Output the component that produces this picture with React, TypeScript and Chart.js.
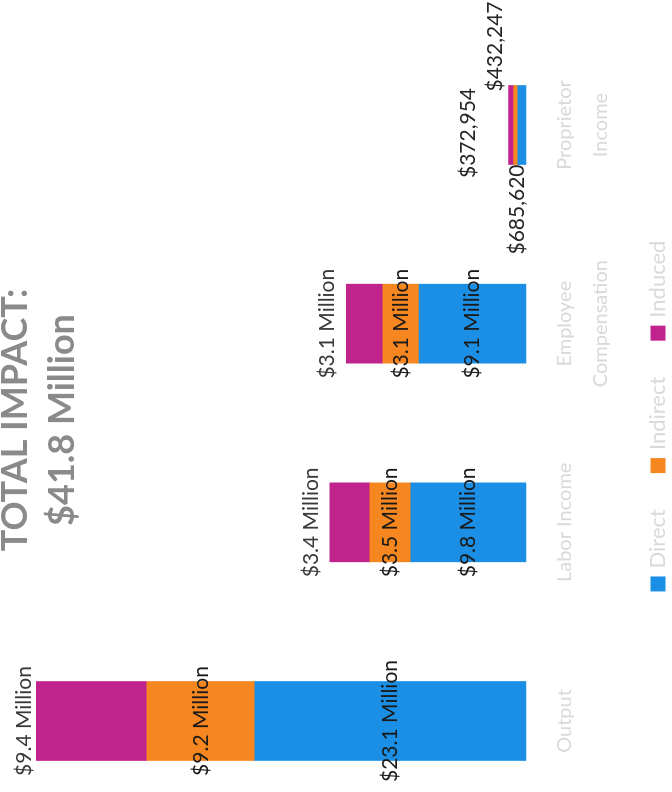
import React, { useEffect, useRef } from "react";
import { Chart, registerables } from "chart.js";

Chart.register(...registerables);

// ---- data ----
const categories: string[][] = [["Output"], ["Labor Income"], ["Employee", "Compensation"], ["Proprietor", "Income"]];
const seriesNames = ["Direct", "Indirect", "Induced"];
const directValues = [23.1, 9.8, 9.1, 0.68562];
const indirectValues = [9.2, 3.5, 3.1, 0.372954];
const inducedValues = [9.4, 3.4, 3.1, 0.432247];
const seriesColors = ["#1b8fe5", "#f6861f", "#c1238d"];
const titleLines = ["TOTAL IMPACT:", "$41.8 Million"];

const W = 792;
const H = 672;

function fmt(v: number): string {
  if (v >= 1) return `$${v.toFixed(1)} Million`;
  return `$${Math.round(v * 1e6).toLocaleString("en-US")}`;
}

const stackLabels = {
  id: "stackLabels",
  afterDatasetsDraw(chart: any) {
    const ctx = chart.ctx;
    ctx.save();
    ctx.font = "21px Lato";
    const metas = [0, 1, 2].map((d) => chart.getDatasetMeta(d));
    const n = chart.data.labels.length;
    for (let i = 0; i < n; i++) {
      const d = metas[0].data[i];
      const m = metas[1].data[i];
      const t = metas[2].data[i];
      const vals = chart.data.datasets.map((ds: any) => ds.data[i]);
      const top = t.y;
      const base = d.base;
      const half = d.width / 2;
      if (base - top > 40) {
        ctx.textAlign = "center";
        ctx.textBaseline = "middle";
        ctx.fillStyle = "#1a1a1a";
        ctx.fillText(fmt(vals[0]), d.x, (d.y + d.base) / 2);
        ctx.fillText(fmt(vals[1]), m.x, (m.y + m.base) / 2);
        ctx.textBaseline = "alphabetic";
        ctx.fillStyle = "#3a3a3a";
        ctx.fillText(fmt(vals[2]), t.x, Math.max(top - 12, 31));
      } else {
        ctx.fillStyle = "#262626";
        ctx.textBaseline = "middle";
        ctx.textAlign = "right";
        ctx.fillText(fmt(vals[0]), d.x - half, (top + base) / 2);
        ctx.textBaseline = "alphabetic";
        ctx.textAlign = "left";
        ctx.fillText(fmt(vals[2]), t.x + half - 6, top - 6);
        ctx.textAlign = "center";
        ctx.fillText(fmt(vals[1]), m.x - 8, top - 33);
      }
    }
    ctx.restore();
  },
};

const titleAndLegend = {
  id: "titleAndLegend",
  afterDraw(chart: any) {
    const ctx = chart.ctx;
    const area = chart.chartArea;
    const cx = (area.left + area.right) / 2;
    ctx.save();
    // title
    ctx.font = "bold 36px Lato";
    ctx.fillStyle = "#8a8a8a";
    ctx.textAlign = "center";
    ctx.textBaseline = "alphabetic";
    ctx.fillText(titleLines[0], cx + 3, 27);
    ctx.fillText(titleLines[1], cx + 3, 74);
    // legend
    ctx.font = "22px Lato";
    const box = 15;
    const gap = 8;
    const itemGap = 36;
    const widths = seriesNames.map((s) => ctx.measureText(s).width);
    let total = 0;
    widths.forEach((w, i) => {
      total += box + gap + w + (i < widths.length - 1 ? itemGap : 0);
    });
    let x = cx + 7 - total / 2;
    const yMid = 658;
    ctx.textAlign = "left";
    ctx.textBaseline = "middle";
    seriesNames.forEach((s, i) => {
      ctx.fillStyle = seriesColors[i];
      ctx.fillRect(x, yMid - box / 2, box, box);
      ctx.fillStyle = "#dadada";
      ctx.fillText(s, x + box + gap, yMid);
      x += box + gap + widths[i] + itemGap;
    });
    ctx.restore();
  },
};

export default function App() {
  const ref = useRef<HTMLCanvasElement | null>(null);
  useEffect(() => {
    if (!ref.current) return;
    const series = [directValues, indirectValues, inducedValues];
    const chart = new Chart(ref.current, {
      type: "bar",
      data: {
        labels: categories as any,
        datasets: series.map((vals, i) => ({
          label: seriesNames[i],
          data: vals,
          backgroundColor: seriesColors[i],
          borderWidth: 0,
          barThickness: 79,
          clip: false as any,
        })),
      },
      options: {
        responsive: false,
        animation: false,
        devicePixelRatio: 1,
        layout: { padding: { top: 0, left: 71, right: 125, bottom: 46 } },
        plugins: {
          legend: { display: false },
          title: { display: false },
          tooltip: { enabled: false },
        },
        scales: {
          x: {
            stacked: true,
            offset: false,
            grid: { display: false, drawTicks: false },
            border: { display: false },
            ticks: {
              autoSkip: false,
              maxRotation: 0,
              minRotation: 0,
              padding: 21,
              color: "#d9d9d9",
              font: { family: "Lato", size: 20, lineHeight: 1.8 },
            },
            afterFit: (scale: any) => {
              scale.height = 100;
            },
          },
          y: {
            stacked: true,
            display: false,
            min: 0,
            max: 44.8,
          },
        },
      },
      plugins: [stackLabels, titleAndLegend],
    });
    const fonts = (document as any).fonts;
    if (fonts && fonts.ready) fonts.ready.then(() => chart.update());
    return () => chart.destroy();
  }, []);

  return (
    <div
      style={{
        position: "fixed",
        left: 0,
        top: 0,
        width: W,
        height: H,
        background: "#ffffff",
        transformOrigin: "0 0",
        transform: `translate(0px, ${W}px) rotate(-90deg)`,
      }}
    >
      <canvas ref={ref} width={W} height={H} style={{ display: "block" }} />
    </div>
  );
}
